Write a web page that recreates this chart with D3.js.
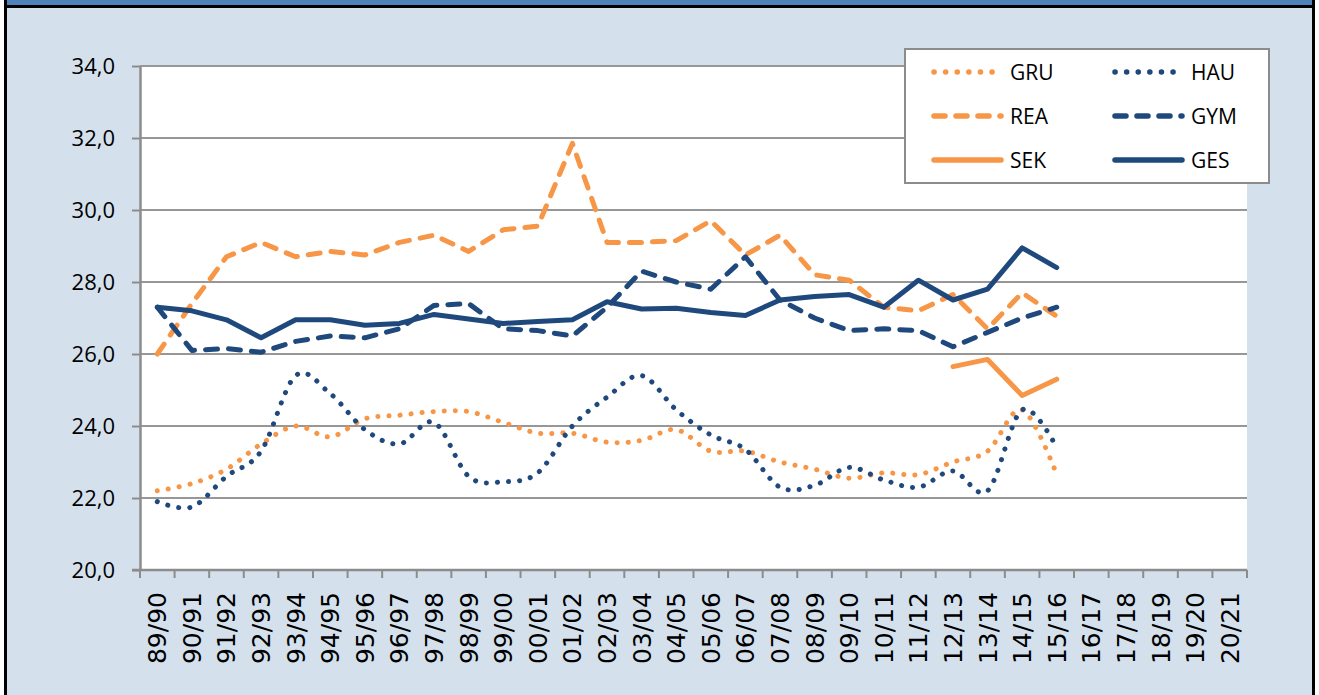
<!DOCTYPE html>
<html>
<head>
<meta charset="utf-8">
<style>
  body { margin: 0; background: #fff; }
  svg { display: block; }
  .ylab { font: 22px "Open Sans", sans-serif; fill: #000; }
  .xlab { font: 25px "DejaVu Sans", sans-serif; fill: #000; }
  .leg { font: 21px "Open Sans", sans-serif; fill: #000; }
</style>
</head>
<body>
<div id="chart-area"></div>
<script src="https://cdn.jsdelivr.net/npm/d3@7"></script>
<script>
  const width = 1319;
  const height = 695;

  // school years on the x axis
  const years = ["89/90","90/91","91/92","92/93","93/94","94/95","95/96","96/97","97/98","98/99",
    "99/00","00/01","01/02","02/03","03/04","04/05","05/06","06/07","07/08","08/09",
    "09/10","10/11","11/12","12/13","13/14","14/15","15/16","16/17","17/18","18/19",
    "19/20","20/21"];

  const yTicks = [20, 22, 24, 26, 28, 30, 32, 34];

  // series values, null = no value
  const GRU = [22.2,22.4,22.8,23.5,24.0,23.7,24.2,24.3,24.4,24.4,24.1,23.8,23.8,23.55,23.6,23.9,23.3,23.3,23.0,22.8,22.55,22.7,22.65,23.0,23.3,24.45,22.65];
  const HAU = [21.9,21.75,22.6,23.3,25.4,24.9,23.9,23.5,24.1,22.6,22.45,22.7,24.0,24.8,25.4,24.45,23.75,23.35,22.3,22.35,22.85,22.5,22.3,22.75,22.2,24.45,23.4];
  const REA = [26.0,27.4,28.7,29.1,28.7,28.85,28.75,29.1,29.3,28.85,29.45,29.55,31.85,29.1,29.1,29.15,29.7,28.75,29.3,28.2,28.05,27.3,27.2,27.65,26.7,27.7,27.05];
  const GYM = [27.3,26.1,26.15,26.05,26.35,26.5,26.45,26.7,27.35,27.4,26.7,26.65,26.5,27.3,28.3,28.0,27.8,28.7,27.5,27.0,26.65,26.7,26.65,26.2,26.6,27.0,27.3];
  const SEK = [null,null,null,null,null,null,null,null,null,null,null,null,null,null,null,null,null,null,null,null,null,null,null,25.65,25.85,24.85,25.3];
  const GES = [27.3,27.2,26.95,26.45,26.95,26.95,26.8,26.85,27.1,26.97,26.85,26.9,26.95,27.45,27.25,27.27,27.15,27.07,27.5,27.6,27.65,27.3,28.05,27.5,27.8,28.95,28.4];

  const orange = "#F79646";
  const navy = "#1F497D";

  const series = [
    {name: "GRU", values: GRU, color: orange, dash: "0.1 11", smooth: true},
    {name: "HAU", values: HAU, color: navy, dash: "0.1 11", smooth: true},
    {name: "REA", values: REA, color: orange, dash: "12 11", smooth: false},
    {name: "GYM", values: GYM, color: navy, dash: "12 11", smooth: false},
    {name: "SEK", values: SEK, color: orange, dash: null, smooth: false},
    {name: "GES", values: GES, color: navy, dash: null, smooth: false}
  ];

  const svg = d3.select("#chart-area")
    .append("svg")
      .attr("width", width)
      .attr("height", height);

  // frame
  svg.append("rect").attr("x", 5.5).attr("y", 0).attr("width", 1308).attr("height", 700)
    .attr("fill", "#D4E1ED").attr("stroke", "#000").attr("stroke-width", 3);
  svg.append("rect").attr("x", 7).attr("y", 0).attr("width", 1305).attr("height", 5)
    .attr("fill", "#4F81BD");
  svg.append("rect").attr("x", 5).attr("y", 5).attr("width", 1310).attr("height", 3)
    .attr("fill", "#000");

  const plotL = 140, plotR = 1247, plotT = 66, plotB = 570;

  const x = d3.scaleBand().domain(years).range([plotL, plotR]).padding(0);
  const y = d3.scaleLinear().domain([20, 34]).range([plotB, plotT]);
  const cx = i => x(years[i]) + x.bandwidth() / 2;

  svg.append("rect").attr("x", plotL).attr("y", plotT)
    .attr("width", plotR - plotL).attr("height", plotB - plotT).attr("fill", "#fff");

  // gridlines
  svg.append("g").selectAll("line")
    .data(yTicks.filter(d => d > 20))
    .join("line")
      .attr("x1", plotL).attr("x2", plotR)
      .attr("y1", d => y(d)).attr("y2", d => y(d))
      .attr("stroke", "#979797").attr("stroke-width", 2);

  // y axis
  const yAxis = svg.append("g")
    .attr("transform", `translate(${plotL},0)`)
    .call(d3.axisLeft(y).tickValues(yTicks).tickSize(8).tickPadding(17).tickSizeOuter(0)
      .tickFormat(d => d.toFixed(1).replace(".", ",")));
  yAxis.attr("font-size", null).attr("font-family", null);
  yAxis.select(".domain").attr("stroke", "#8C8C8C").attr("stroke-width", 2.5);
  yAxis.selectAll(".tick line").attr("stroke", "#8C8C8C").attr("stroke-width", 2);
  yAxis.selectAll(".tick text").attr("class", "ylab");

  // x axis line + boundary ticks
  svg.append("line").attr("x1", plotL - 8).attr("x2", plotR)
    .attr("y1", plotB).attr("y2", plotB)
    .attr("stroke", "#8C8C8C").attr("stroke-width", 2.5);
  const bounds = years.map(d => x(d)).concat([plotR]);
  svg.append("g").selectAll("line")
    .data(bounds)
    .join("line")
      .attr("x1", d => d).attr("x2", d => d)
      .attr("y1", plotB).attr("y2", plotB + 8)
      .attr("stroke", "#8C8C8C").attr("stroke-width", 2);

  svg.append("g").selectAll("text")
    .data(years)
    .join("text")
      .attr("class", "xlab")
      .attr("transform", d => `translate(${x(d) + x.bandwidth() / 2},592) rotate(-90)`)
      .attr("text-anchor", "end")
      .attr("dy", "0.36em")
      .text(d => d);

  // lines
  const drawOrder = ["GRU", "REA", "SEK", "HAU", "GYM", "GES"];
  drawOrder.forEach(n => {
    const s = series.find(e => e.name === n);
    const line = d3.line()
      .defined(d => d != null)
      .x((d, i) => cx(i))
      .y(d => y(d))
      .curve(s.smooth ? d3.curveCardinal.tension(0) : d3.curveLinear);
    svg.append("path")
      .datum(s.values)
      .attr("d", line)
      .attr("fill", "none")
      .attr("stroke", s.color)
      .attr("stroke-width", 5)
      .attr("stroke-linecap", "round")
      .attr("stroke-linejoin", "round")
      .attr("stroke-dasharray", s.dash);
  });

  // legend
  const legend = svg.append("g");
  legend.append("rect").attr("x", 905).attr("y", 49).attr("width", 364).attr("height", 134)
    .attr("fill", "#fff").attr("stroke", "#8C8C8C").attr("stroke-width", 2);
  series.forEach((s, k) => {
    const col = k % 2, row = Math.floor(k / 2);
    const lx = col === 0 ? 934 : 1115;
    const ly = 72 + row * 44;
    legend.append("line")
      .attr("x1", lx).attr("x2", lx + 67)
      .attr("y1", ly).attr("y2", ly)
      .attr("stroke", s.color).attr("stroke-width", 5.5)
      .attr("stroke-linecap", "round")
      .attr("stroke-dasharray", s.dash ? (s.smooth ? "0.1 11.5" : "11 11") : null);
    legend.append("text")
      .attr("class", "leg")
      .attr("x", lx + 76).attr("y", ly + 8)
      .text(s.name);
  });
</script>
</body>
</html>
